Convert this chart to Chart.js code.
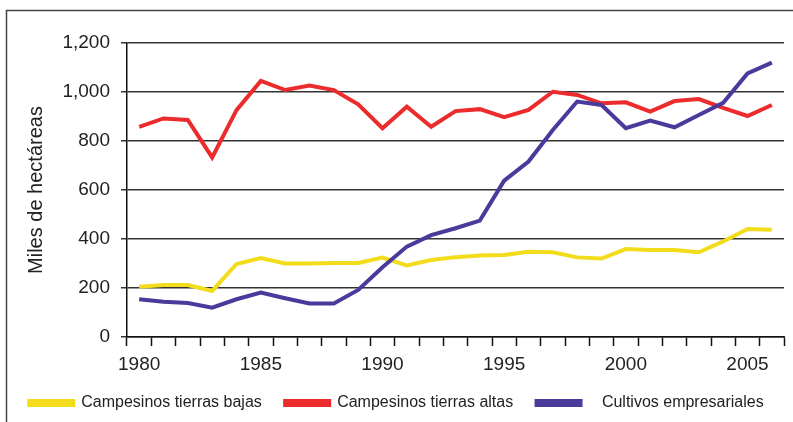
<!DOCTYPE html>
<html>
<head>
<meta charset="utf-8">
<script src="https://cdn.jsdelivr.net/npm/chart.js@4"></script>
<style>
  body { margin: 0; background: #fff; }
  canvas { display: block; }
</style>
</head>
<body>
<canvas id="areaChart" width="793" height="422"></canvas>
<script>
// Years on the x axis
const years = [1980, 1981, 1982, 1983, 1984, 1985, 1986, 1987, 1988, 1989,
    1990, 1991, 1992, 1993, 1994, 1995, 1996, 1997, 1998, 1999,
    2000, 2001, 2002, 2003, 2004, 2005, 2006];

// Miles de hectáreas per series
const tierrasBajas = [205, 212, 212, 188, 298, 322, 300, 300, 302, 302,
    324, 292, 314, 326, 333, 335, 348, 346, 325, 320,
    359, 355, 355, 346, 390, 441, 438];
const tierrasAltas = [858, 892, 886, 733, 926, 1045, 1008, 1026, 1008, 950,
    852, 940, 858, 922, 930, 897, 927, 1001, 988, 954,
    958, 920, 963, 971, 935, 902, 947];
const empresariales = [154, 144, 139, 120, 154, 181, 158, 137, 137, 192,
    285, 369, 416, 444, 475, 638, 716, 845, 961, 947,
    852, 883, 856, 906, 956, 1076, 1120];

const yTicks = [0, 200, 400, 600, 800, 1000, 1200];

const fontFamily = "'Liberation Sans', Arial, sans-serif";
const textColor = '#222';

// Colors for lines
const colors = {
    yellow: '#f2dc1c',
    red: '#ec2c2c',
    blue: '#4a3a9c'
};

// Thin frame along the top and left edges
const framePlugin = {
    id: 'frame',
    beforeDraw(chart) {
        const ctx = chart.ctx;
        ctx.save();
        ctx.fillStyle = '#fff';
        ctx.fillRect(0, 0, chart.width, chart.height);
        ctx.strokeStyle = '#444';
        ctx.lineWidth = 1.5;
        ctx.beginPath();
        ctx.moveTo(6.5, chart.height);
        ctx.lineTo(6.5, 10.5);
        ctx.lineTo(chart.width, 10.5);
        ctx.stroke();
        ctx.restore();
    }
};

const ctx = document.getElementById('areaChart').getContext('2d');
new Chart(ctx, {
    type: 'line',
    data: {
        labels: years.map(String),
        datasets: [{
            label: 'Campesinos tierras bajas   ',
            data: tierrasBajas,
            borderColor: colors.yellow,
            backgroundColor: colors.yellow,
            order: 2
        }, {
            label: 'Campesinos tierras altas   ',
            data: tierrasAltas,
            borderColor: colors.red,
            backgroundColor: colors.red,
            order: 1
        }, {
            label: '   Cultivos empresariales',
            data: empresariales,
            borderColor: colors.blue,
            backgroundColor: colors.blue,
            order: 0
        }]
    },
    options: {
        responsive: false,
        animation: false,
        layout: {
            padding: { top: 43, right: 9, bottom: 1, left: 9 }
        },
        elements: {
            line: { borderWidth: 4, tension: 0, borderCapStyle: 'butt', borderJoinStyle: 'miter' },
            point: { radius: 0, hoverRadius: 0 }
        },
        plugins: {
            legend: {
                position: 'bottom',
                labels: {
                    boxWidth: 44,
                    boxHeight: 4,
                    padding: 10,
                    color: textColor,
                    font: { family: fontFamily, size: 16 },
                    sort: (a, b) => a.datasetIndex - b.datasetIndex
                }
            },
            tooltip: { enabled: false }
        },
        scales: {
            x: {
                type: 'category',
                offset: true,
                afterFit(scale) { scale.height = 48; },
                grid: {
                    offset: true,
                    drawOnChartArea: false,
                    drawTicks: true,
                    tickLength: 9,
                    tickWidth: 1.5,
                    tickColor: '#111'
                },
                border: { color: '#111', width: 1.5 },
                ticks: {
                    autoSkip: false,
                    maxRotation: 0,
                    padding: 7,
                    color: textColor,
                    font: { family: fontFamily, size: 19 },
                    callback(value, index) {
                        return years[index] % 5 === 0 ? String(years[index]) : '';
                    }
                }
            },
            y: {
                min: yTicks[0],
                max: yTicks[yTicks.length - 1],
                afterFit(scale) { scale.width = 118; },
                afterBuildTicks(scale) { scale.ticks = yTicks.map(v => ({ value: v })); },
                grid: {
                    color: '#333',
                    lineWidth: 1.5,
                    tickLength: 6
                },
                border: { color: '#111', width: 1.5 },
                ticks: {
                    padding: 11,
                    color: textColor,
                    font: { family: fontFamily, size: 19 },
                    callback(value) { return value.toLocaleString('en-US'); }
                },
                title: {
                    display: true,
                    text: 'Miles de hectáreas',
                    color: textColor,
                    font: { family: fontFamily, size: 20 },
                    padding: { top: 15, bottom: 0 }
                }
            }
        }
    },
    plugins: [framePlugin]
});
</script>
</body>
</html>
